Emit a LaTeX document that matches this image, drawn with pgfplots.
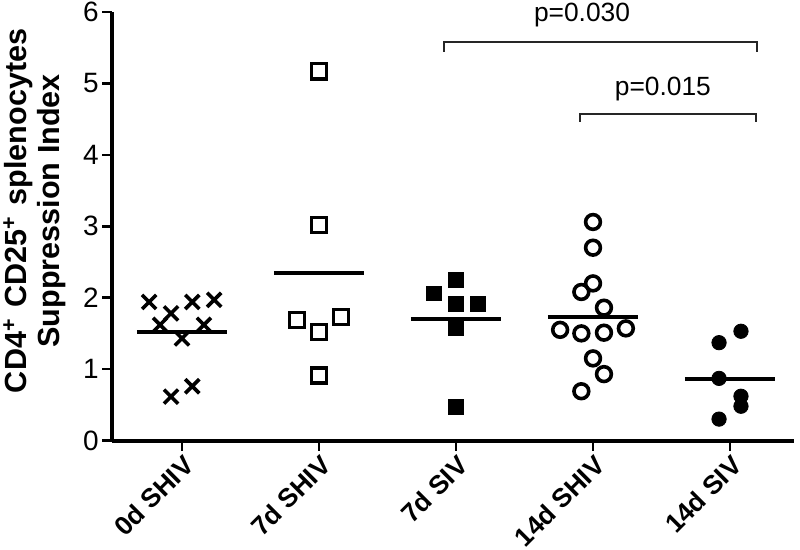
\documentclass[border=0pt]{standalone}
\usepackage{fontspec}
\setmainfont{Liberation Sans}
\usepackage{pgfplots}
\pgfplotsset{compat=1.18}
\begin{document}
\begin{tikzpicture}
\begin{axis}[
  scale only axis, width=341.5pt, height=214.5pt,
  xmin=-0.51, xmax=4.47, ymin=0, ymax=6,
  axis x line*=bottom, axis y line*=left,
  axis line style={line width=2pt},
  xtick={0,1,2,3,4},
  xticklabels={0d SHIV,7d SHIV,7d SIV,14d SHIV,14d SIV},
  ytick={0,1,2,3,4,5,6},
  tick align=outside,
  major tick length=5pt,
  tick style={line width=1.3pt, black},
  xticklabel style={rotate=45, anchor=north east, inner sep=1pt, font=\fontsize{13.2}{16}\selectfont\bfseries},
  yticklabel style={font=\fontsize{14}{16}\selectfont, inner sep=1.5pt},
  /pgf/number format/assume math mode=true,
  ylabel={CD4\textsuperscript{+}\hspace{0.35em}CD25\textsuperscript{+}\hspace{0.35em}splenocytes\\Suppression Index},
  ylabel style={font=\fontsize{15.3}{16.5}\selectfont\bfseries, align=center, at={(axis description cs:-0.114,0.536)}, anchor=center},
  clip=false,
]
% 0d SHIV
\addplot[only marks, mark=x, mark size=5pt, mark options={line width=1.8pt, black}] coordinates {
(-0.24,1.94) (-0.08,1.78) (0.075,1.94) (0.235,1.97) (-0.16,1.62) (0.16,1.62) (0,1.43) (-0.08,0.615) (0.075,0.76)};
% 7d SHIV
\addplot[only marks, mark=square, mark size=3.8pt, mark options={line width=1.7pt, black}] coordinates {
(1,5.17) (1,3.02) (0.84,1.69) (1,1.52) (1.16,1.73) (1,0.91)};
% 7d SIV
\addplot[only marks, mark=square*, mark size=3.7pt, mark options={line width=0.4pt, black, fill=black}] coordinates {
(2,2.25) (1.84,2.06) (2,1.91) (2.16,1.91) (2,1.58) (2,0.47)};
% 14d SHIV
\addplot[only marks, mark=o, mark size=3.7pt, mark options={line width=1.8pt, black}] coordinates {
(3,3.06) (3,2.70) (3,2.20) (2.915,2.08) (3.08,1.86) (2.76,1.55) (2.915,1.50) (3.08,1.51) (3.24,1.57) (3,1.15) (3.08,0.93) (2.915,0.69)};
% 14d SIV
\addplot[only marks, mark=*, mark size=3.6pt, mark options={line width=0.4pt, black, fill=black}] coordinates {
(4.08,1.53) (3.92,1.37) (3.92,0.87) (4.08,0.62) (4.08,0.48) (3.92,0.30)};
% means
\addplot[black, line width=2pt, no marks] coordinates {(-0.33,1.52) (0.33,1.52)};
\addplot[black, line width=2pt, no marks] coordinates {(0.67,2.34) (1.33,2.34)};
\addplot[black, line width=2pt, no marks] coordinates {(1.67,1.70) (2.33,1.70)};
\addplot[black, line width=2pt, no marks] coordinates {(2.67,1.73) (3.33,1.73)};
\addplot[black, line width=2pt, no marks] coordinates {(3.67,0.86) (4.33,0.86)};
% brackets
\draw[line width=0.7pt, black!85] (axis cs:1.912,5.44) -- (axis cs:1.912,5.58) -- (axis cs:4.197,5.58) -- (axis cs:4.197,5.44);
\draw[line width=0.7pt, black!85] (axis cs:2.905,4.46) -- (axis cs:2.905,4.57) -- (axis cs:4.19,4.57) -- (axis cs:4.19,4.46);
\node[anchor=base, font=\fontsize{13.2}{15}\selectfont, inner sep=0pt] at (axis cs:2.92,5.865) {p=0.030};
\node[anchor=base, font=\fontsize{13.2}{15}\selectfont, inner sep=0pt] at (axis cs:3.51,4.83) {p=0.015};
\coordinate (bbsw) at (axis cs:-1.3285,-1.524);
\coordinate (bbne) at (axis cs:4.511,6.168);
\end{axis}
\pgfresetboundingbox
\path[use as bounding box] (bbsw) rectangle (bbne);
\end{tikzpicture}
\end{document}
